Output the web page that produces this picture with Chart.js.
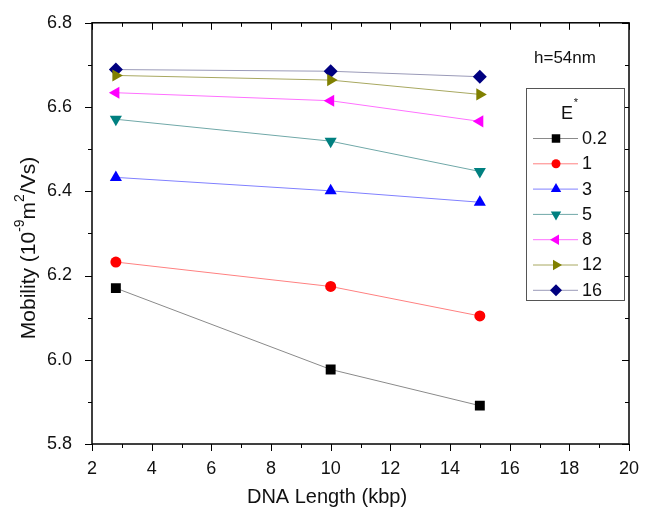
<!DOCTYPE html>
<html>
<head>
<meta charset="utf-8">
<script src="https://cdn.jsdelivr.net/npm/chart.js@4/dist/chart.umd.min.js"></script>
<style>
  html, body { margin: 0; padding: 0; background: #fff; }
  #wrap { width: 646px; height: 514px; }
</style>
</head>
<body>
<div id="wrap"><canvas id="chart" width="646" height="514"></canvas></div>
<script>
// DNA length (kbp)
const dnaLength = [2.8, 10, 15];
const eLabels = ['0.2', '1', '3', '5', '8', '12', '16'];
const mob02 = [6.170, 5.977, 5.891];
const mob1 = [6.232, 6.174, 6.104];
const mob3 = [6.433, 6.401, 6.374];
const mob5 = [6.571, 6.519, 6.447];
const mob8 = [6.634, 6.615, 6.566];
const mob12 = [6.675, 6.664, 6.630];
const mob16 = [6.689, 6.685, 6.672];
const xTicks = [2, 4, 6, 8, 10, 12, 14, 16, 18, 20];
const yTicks = [5.8, 6.0, 6.2, 6.4, 6.6, 6.8];

const FONT = 'Arial, "Liberation Sans", sans-serif';

const styles = [
  { color: '#000000', line: '#8a8a8a', shape: 'rect', rot: 0, r: 7 },
  { color: '#ff0000', line: '#ff8080', shape: 'circle', rot: 0, r: 5.5 },
  { color: '#0000ff', line: '#8080ff', shape: 'triangle', rot: 0, r: 7 },
  { color: '#008080', line: '#70a8a8', shape: 'triangle', rot: 180, r: 7 },
  { color: '#ff00ff', line: '#ff70ff', shape: 'triangle', rot: 270, r: 7 },
  { color: '#808000', line: '#a8a860', shape: 'triangle', rot: 90, r: 7 },
  { color: '#000080', line: '#9a9ab8', shape: 'rectRot', rot: 0, r: 7 },
];
const series = [mob02, mob1, mob3, mob5, mob8, mob12, mob16];

const datasets = series.map((vals, i) => ({
  label: eLabels[i],
  data: vals.map((v, k) => ({ x: dnaLength[k], y: v })),
  borderColor: styles[i].line,
  borderWidth: 1,
  backgroundColor: styles[i].color,
  pointBackgroundColor: styles[i].color,
  pointBorderColor: styles[i].color,
  pointStyle: styles[i].shape,
  pointRotation: styles[i].rot,
  pointRadius: styles[i].r,
  pointBorderWidth: 0,
  tension: 0,
}));

// draws text pieces in a row, some raised as superscripts
function drawRich(ctx, parts, x, y, size) {
  let total = 0;
  for (const p of parts) {
    ctx.font = (p.sup ? Math.round(size * 0.65) : size) + 'px ' + FONT;
    total += ctx.measureText(p.t).width;
  }
  let cx = x - total / 2;
  for (const p of parts) {
    ctx.font = (p.sup ? Math.round(size * 0.65) : size) + 'px ' + FONT;
    ctx.fillText(p.t, cx, p.sup ? y - size * 0.4 : y);
    cx += ctx.measureText(p.t).width;
  }
}

// frame, minor ticks, titles, annotation and legend
const framePlugin = {
  id: 'frame',
  afterDraw(chart) {
    const { ctx, chartArea: a, scales } = chart;
    const xs = scales.x, ys = scales.y;
    ctx.save();
    ctx.strokeStyle = '#000';
    ctx.lineWidth = 1.5;
    ctx.strokeRect(a.left, a.top, a.right - a.left, a.bottom - a.top);
    ctx.lineWidth = 1;
    ctx.beginPath();
    // x ticks: outward on bottom, inward on top
    for (let v = 2; v <= 20; v += 1) {
      const px = Math.round(xs.getPixelForValue(v)) + 0.5;
      const major = v % 2 === 0;
      const len = major ? 7 : 4;
      ctx.moveTo(px, a.bottom); ctx.lineTo(px, a.bottom + len);
      ctx.moveTo(px, a.top); ctx.lineTo(px, a.top + len);
    }
    // y ticks: outward on left, inward on right
    for (let k = 0; k <= 10; k++) {
      const v = 5.8 + k * 0.1;
      const py = Math.round(ys.getPixelForValue(v)) + 0.5;
      const len = k % 2 === 0 ? 7 : 4;
      ctx.moveTo(a.left, py); ctx.lineTo(a.left - len, py);
      ctx.moveTo(a.right, py); ctx.lineTo(a.right - len, py);
    }
    ctx.stroke();

    ctx.fillStyle = '#111';
    ctx.textBaseline = 'middle';

    // axis titles
    ctx.textAlign = 'center';
    ctx.font = '20px ' + FONT;
    ctx.fillText('DNA Length (kbp)', 327, 497);
    ctx.save();
    ctx.translate(29, 248);
    ctx.rotate(-Math.PI / 2);
    ctx.textAlign = 'left';
    drawRich(ctx, [{ t: 'Mobility (10' }, { t: '-9', sup: true }, { t: 'm' }, { t: '2', sup: true }, { t: '/Vs)' }], 0, 0, 21);
    ctx.restore();

    ctx.font = '17px ' + FONT;
    ctx.textAlign = 'left';
    ctx.fillText('h=54nm', 534, 58);

    // legend
    const bx = 526, by = 88, bw = 98, bh = 212;
    ctx.fillStyle = '#fff';
    ctx.fillRect(bx, by, bw, bh);
    ctx.strokeStyle = '#555';
    ctx.strokeRect(bx + 0.5, by + 0.5, bw, bh);
    ctx.fillStyle = '#111';
    ctx.font = '18px ' + FONT;
    ctx.textAlign = 'center';
    ctx.fillText('E', 567, 114);
    ctx.font = '11px ' + FONT;
    ctx.fillText('*', 576, 103);
    ctx.font = '18px ' + FONT;
    ctx.textAlign = 'left';
    chart.data.datasets.forEach((ds, i) => {
      const y = 138 + i * 25.3;
      ctx.strokeStyle = ds.borderColor;
      ctx.lineWidth = 1;
      ctx.beginPath();
      ctx.moveTo(533, y + 0.5); ctx.lineTo(578, y + 0.5);
      ctx.stroke();
      ctx.fillStyle = ds.pointBackgroundColor;
      ctx.strokeStyle = ds.pointBorderColor;
      Chart.helpers.drawPoint(ctx, { pointStyle: ds.pointStyle, rotation: ds.pointRotation, radius: ds.pointRadius - 1, borderWidth: 0 }, 556, y + 0.5);
      ctx.fillStyle = '#111';
      ctx.fillText(ds.label, 582, y + 1);
    });
    ctx.restore();
  }
};

new Chart(document.getElementById('chart'), {
  type: 'line',
  data: { datasets },
  plugins: [framePlugin],
  options: {
    responsive: false,
    animation: false,
    layout: { padding: { top: 16, right: 17, left: 0, bottom: 0 } },
    plugins: { legend: { display: false }, tooltip: { enabled: false } },
    scales: {
      x: {
        type: 'linear', min: 2, max: 20,
        afterBuildTicks: s => { s.ticks = xTicks.map(v => ({ value: v })); },
        afterFit: s => { s.height = 70; },
        ticks: { color: '#111', font: { size: 18, family: FONT }, padding: 6, maxRotation: 0 },
        grid: { display: false },
        border: { display: false },
      },
      y: {
        type: 'linear', min: 5.8, max: 6.8,
        afterBuildTicks: s => { s.ticks = yTicks.map(v => ({ value: v })); },
        afterFit: s => { s.width = 92; },
        ticks: { color: '#111', font: { size: 18, family: FONT }, padding: 12, callback: v => v.toFixed(1) },
        grid: { display: false },
        border: { display: false },
      },
    },
  },
});
</script>
</body>
</html>
